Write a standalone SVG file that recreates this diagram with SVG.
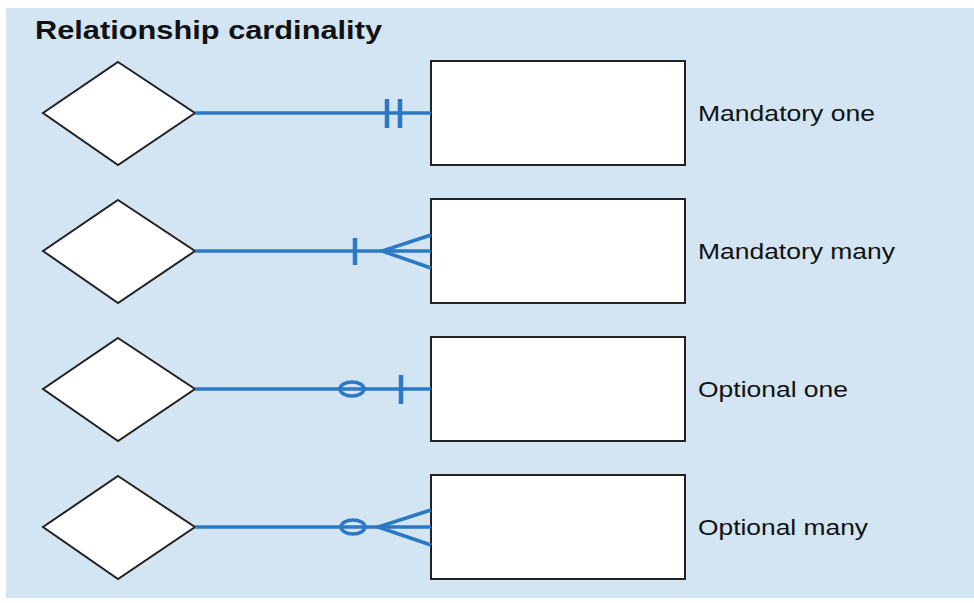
<svg xmlns="http://www.w3.org/2000/svg" width="974" height="603" viewBox="0 0 974 603">
<style>
.bg{fill:#d3e5f3}
.dia{fill:#fff;stroke:#222;stroke-width:2}
.ent{fill:#fff;stroke:#222;stroke-width:2}
.c{stroke:#2b78c4;stroke-width:3.5;fill:none}
.bar{stroke:#2b78c4;stroke-width:4.5;fill:none}
.lbl{font-family:"Liberation Sans",Arial,sans-serif;font-size:22px;fill:#111}
.title{font-family:"Liberation Sans",Arial,sans-serif;font-size:25px;font-weight:bold;fill:#111}
</style>
<rect x="0" y="0" width="974" height="603" fill="#fff"/>
<rect class="bg" x="6" y="8" width="968" height="590"/>
<text class="title" x="35" y="39" textLength="347" lengthAdjust="spacingAndGlyphs">Relationship cardinality</text>

<g id="rel1"><polygon class="dia" points="118,62 195,113 118,165 43,113"/></g>
<g id="rel2"><polygon class="dia" points="118,200 195,251 118,303 43,251"/></g>
<g id="rel3"><polygon class="dia" points="118,338 195,389 118,441 43,389"/></g>
<g id="rel4"><polygon class="dia" points="118,476 195,527 118,579 43,527"/></g>

<g id="ent1"><rect class="ent" x="431" y="61" width="254" height="104"/><text class="lbl" x="698" y="121" textLength="177" lengthAdjust="spacingAndGlyphs">Mandatory one</text></g>
<g id="ent2"><rect class="ent" x="431" y="199" width="254" height="104"/><text class="lbl" x="698" y="259" textLength="197" lengthAdjust="spacingAndGlyphs">Mandatory many</text></g>
<g id="ent3"><rect class="ent" x="431" y="337" width="254" height="104"/><text class="lbl" x="698" y="397" textLength="150" lengthAdjust="spacingAndGlyphs">Optional one</text></g>
<g id="ent4"><rect class="ent" x="431" y="475" width="254" height="104"/><text class="lbl" x="698" y="535" textLength="170" lengthAdjust="spacingAndGlyphs">Optional many</text></g>

<g id="connectors">
  <line class="c" x1="195" y1="113" x2="431" y2="113"/>
  <line class="bar" x1="387" y1="99" x2="387" y2="128"/>
  <line class="bar" x1="400" y1="99" x2="400" y2="128"/>

  <line class="c" x1="195" y1="251" x2="431" y2="251"/>
  <line class="bar" x1="355" y1="238" x2="355" y2="265"/>
  <polyline class="c" points="431,235 382,251 431,268"/>

  <line class="c" x1="195" y1="389" x2="431" y2="389"/>
  <ellipse class="c" cx="352" cy="389" rx="12" ry="7"/>
  <line class="bar" x1="401" y1="375" x2="401" y2="404"/>

  <line class="c" x1="195" y1="527" x2="431" y2="527"/>
  <ellipse class="c" cx="353" cy="527" rx="12" ry="7"/>
  <polyline class="c" points="431,510 378,527 431,545"/>
</g>
</svg>
